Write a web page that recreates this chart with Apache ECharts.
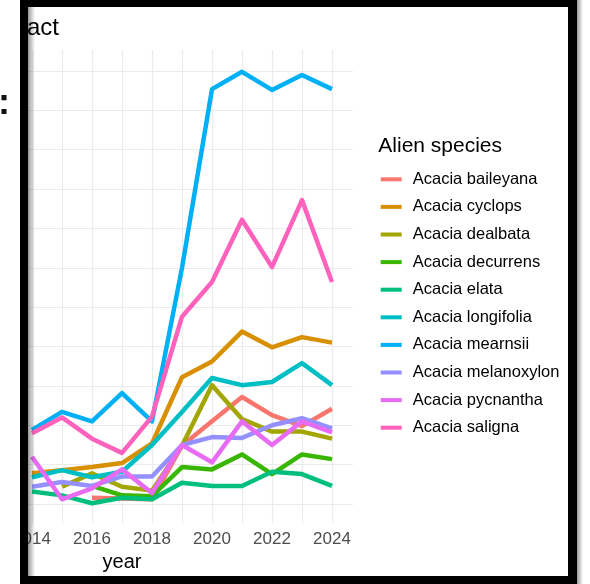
<!DOCTYPE html>
<html>
<head>
<meta charset="utf-8">
<script src="https://cdn.jsdelivr.net/npm/echarts@6/dist/echarts.min.js"></script>
<style>
  html, body { margin: 0; padding: 0; background: #fff; }
  #chart { width: 590px; height: 584px; }
</style>
</head>
<body>
<div id="chart"></div>
<script>
// years shown in the crop
const years = [2014, 2015, 2016, 2017, 2018, 2019, 2020, 2021, 2022, 2023, 2024];
const yearLabels = [2014, 2016, 2018, 2020, 2022, 2024];
const gridValues = [0, 5, 10, 15, 20, 25, 30, 35, 40, 45, 50, 55];

// impact values (null = no point that year)
const baileyana   = [null, null, 0.8, 0.7, 0.6, 7.4, 10.5, 13.6, 11.3, 9.9, 12.1];
const cyclops     = [3.9, 4.3, 4.7, 5.2, 7.7, 16.1, 18.1, 21.9, 19.9, 21.2, 20.5];
const dealbata    = [null, 2.2, 3.9, 2.2, 1.7, 7.4, 15.1, 10.8, 9.2, 9.2, 8.3];
const decurrens   = [null, null, 2.3, 1.1, 1.0, 4.7, 4.4, 6.3, 3.8, 6.3, 5.7];
const elata       = [1.6, 1.1, 0.1, 0.8, 0.6, 2.7, 2.3, 2.3, 4.1, 3.8, 2.3];
const longifolia  = [3.4, 4.3, 3.4, 4.1, 7.5, 11.7, 16.0, 15.1, 15.5, 17.9, 15.1];
const mearnsii    = [9.4, 11.7, 10.5, 14.1, 10.5, 30.0, 52.7, 54.9, 52.6, 54.5, 52.7];
const melanoxylon = [2.2, 2.8, 2.3, 3.5, 3.5, 7.5, 8.5, 8.4, 10.0, 10.9, 9.6];
const pycnantha   = [6.0, 0.6, 2.0, 4.4, 1.4, 7.5, 5.3, 10.5, 7.5, 10.5, 9.1];
const saligna     = [9.0, 11.0, 8.3, 6.5, 11.1, 23.8, 28.2, 36.1, 30.1, 38.6, 28.2];

const species = [
  { name: "Acacia baileyana", values: baileyana, color: "#F8766D" },
  { name: "Acacia cyclops", values: cyclops, color: "#D89000" },
  { name: "Acacia dealbata", values: dealbata, color: "#A3A500" },
  { name: "Acacia decurrens", values: decurrens, color: "#39B600" },
  { name: "Acacia elata", values: elata, color: "#00BF7D" },
  { name: "Acacia longifolia", values: longifolia, color: "#00BFC4" },
  { name: "Acacia mearnsii", values: mearnsii, color: "#00B0F6" },
  { name: "Acacia melanoxylon", values: melanoxylon, color: "#9590FF" },
  { name: "Acacia pycnantha", values: pycnantha, color: "#E76BF3" },
  { name: "Acacia saligna", values: saligna, color: "#FF62BC" },
];

const font = "'Liberation Sans', Arial, sans-serif";
const gridColor = "#ebebeb";

const chart = echarts.init(document.getElementById("chart"));

/** shadow strip next to the black frame */
const shade = (x, w) => ({
  type: "rect",
  shape: { x, y: 0, width: w, height: 584 },
  style: {
    fill: new echarts.graphic.LinearGradient(0, 0, 1, 0, [
      { offset: 0, color: "rgba(0,0,0,0.4)" },
      { offset: 1, color: "rgba(0,0,0,0)" },
    ]),
  },
  silent: true,
  z: 100,
});

const option = {
  animation: false,
  backgroundColor: "#fff",
  grid: { left: 28, right: 237, top: 50, bottom: 61 },
  xAxis: {
    type: "value",
    min: 2013.867,
    max: 2024.7,
    axisLine: { show: false },
    axisTick: { show: false, customValues: years },
    splitLine: { show: true, lineStyle: { color: gridColor, width: 1.2 } },
    axisLabel: {
      customValues: yearLabels,
      color: "#4d4d4d",
      fontSize: 17,
      fontFamily: font,
      margin: 8,
      formatter: (v) => String(v),
    },
  },
  yAxis: {
    type: "value",
    min: -2.41,
    max: 57.67,
    axisLine: { show: false },
    axisTick: { show: false, customValues: gridValues },
    axisLabel: { show: false },
    splitLine: { show: true, lineStyle: { color: gridColor, width: 1.2 } },
  },
  legend: {
    orient: "vertical",
    left: 380.7,
    top: 169.3,
    padding: 0,
    itemWidth: 21,
    itemHeight: 4,
    itemGap: 7.6,
    icon: "rect",
    textStyle: {
      color: "#000",
      fontSize: 16.5,
      fontFamily: font,
      lineHeight: 20,
      padding: [0, 0, 0, 6],
    },
    data: species.map((s) => s.name),
  },
  series: species.map((s) => ({
    name: s.name,
    type: "line",
    data: years.map((y, i) => [y, s.values[i]]),
    showSymbol: false,
    connectNulls: false,
    lineStyle: { color: s.color, width: 4.5, cap: "butt", join: "round" },
    itemStyle: { color: s.color },
  })),
  graphic: [
    {
      type: "text",
      left: 27,
      top: 16,
      style: { text: "act", fill: "#000", font: `24px ${font}` },
      z: 50,
    },
    {
      type: "text",
      x: 378.3,
      y: 146,
      style: {
        text: "Alien species",
        fill: "#000",
        font: `21px ${font}`,
        verticalAlign: "middle",
      },
    },
    {
      type: "text",
      x: 122,
      y: 562,
      style: {
        text: "year",
        fill: "#000",
        font: `20px ${font}`,
        align: "center",
        verticalAlign: "middle",
      },
      z: 50,
    },
    // outside the screenshot frame
    { type: "rect", shape: { x: 0, y: 0, width: 20, height: 584 }, style: { fill: "#fff" }, z: 90 },
    { type: "rect", shape: { x: 577, y: 0, width: 13, height: 584 }, style: { fill: "#fff" }, z: 90 },
    {
      type: "text",
      x: -2,
      y: 104,
      style: {
        text: ":",
        fill: "#111",
        font: `bold 36px ${font}`,
        verticalAlign: "middle",
      },
      z: 95,
    },
    // shadows
    shade(28, 7),
    shade(577, 6),
    // black frame
    { type: "rect", shape: { x: 20, y: 0, width: 557, height: 7 }, style: { fill: "#000" }, z: 110 },
    { type: "rect", shape: { x: 20, y: 0, width: 8, height: 584 }, style: { fill: "#000" }, z: 110 },
    { type: "rect", shape: { x: 568, y: 0, width: 9, height: 584 }, style: { fill: "#000" }, z: 110 },
    { type: "rect", shape: { x: 20, y: 576, width: 557, height: 8 }, style: { fill: "#000" }, z: 110 },
  ],
};

chart.setOption(option);
</script>
</body>
</html>
